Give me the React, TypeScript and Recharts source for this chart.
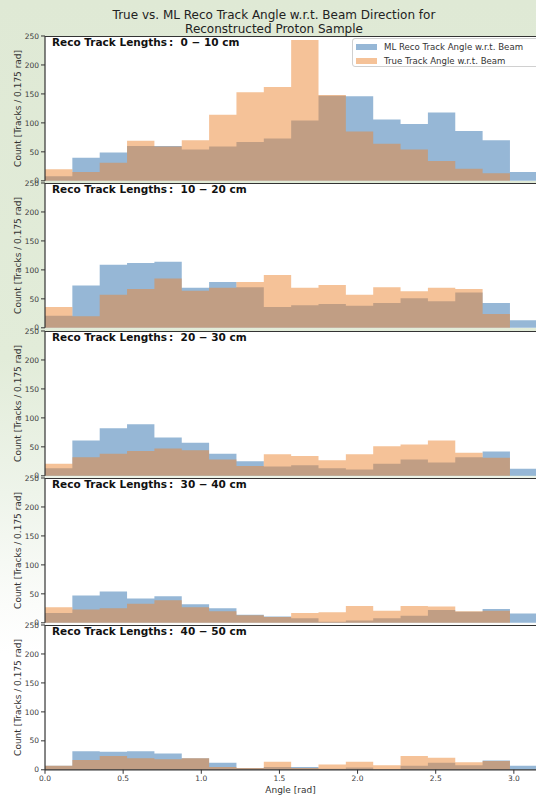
import React from 'react';
import { ComposedChart, Area, XAxis, YAxis } from 'recharts';

// ---- data -------------------------------------------------------------
const BIN_WIDTH = 0.175; // rad
const N_BINS = 18;
const X_MAX = Math.PI;

const lengthRanges = ['0 − 10', '10 − 20', '20 − 30', '30 − 40', '40 − 50'];

// ML reco track angle w.r.t. beam, counts per bin
const reco_0_10 = [8, 40, 49, 60, 60, 54, 59, 67, 73, 104, 147, 146, 106, 98, 118, 86, 70, 15];
const reco_10_20 = [21, 73, 109, 112, 114, 69, 79, 70, 36, 39, 41, 38, 43, 51, 46, 61, 43, 13];
const reco_20_30 = [13, 61, 82, 89, 66, 57, 38, 25, 16, 18, 13, 11, 21, 28, 23, 32, 42, 12];
const reco_30_40 = [17, 47, 54, 42, 46, 32, 25, 14, 11, 8, 2, 4, 8, 12, 22, 19, 24, 16];
const reco_40_50 = [7, 32, 31, 32, 28, 20, 12, 3, 5, 5, 2, 4, 1, 7, 12, 8, 16, 7];

// True track angle w.r.t. beam, counts per bin
const true_0_10 = [20, 15, 31, 69, 59, 70, 114, 153, 162, 243, 148, 85, 64, 54, 34, 21, 13, 0];
const true_10_20 = [36, 20, 57, 67, 85, 64, 69, 79, 91, 69, 74, 57, 70, 63, 69, 67, 24, 0];
const true_20_30 = [21, 32, 38, 43, 47, 44, 28, 17, 37, 34, 27, 37, 51, 54, 61, 40, 31, 0];
const true_30_40 = [27, 23, 25, 33, 39, 27, 20, 13, 10, 17, 18, 29, 21, 29, 28, 20, 21, 0];
const true_40_50 = [7, 17, 24, 20, 18, 20, 5, 3, 14, 3, 9, 14, 8, 24, 21, 13, 15, 0];

const recoSets = [reco_0_10, reco_10_20, reco_20_30, reco_30_40, reco_40_50];
const trueSets = [true_0_10, true_10_20, true_20_30, true_30_40, true_40_50];

const yTicks = [0, 50, 100, 150, 200, 250];
const xTicks = [0, 0.5, 1, 1.5, 2, 2.5, 3];

const RECO_NAME = 'ML Reco Track Angle w.r.t. Beam';
const TRUE_NAME = 'True Track Angle w.r.t. Beam';
const Y_LABEL = 'Count [Tracks / 0.175 rad]';
const X_LABEL = 'Angle [rad]';
const TITLE_1 = 'True vs. ML Reco Track Angle w.r.t. Beam Direction for';
const TITLE_2 = 'Reconstructed Proton Sample';

// ---- styling / layout --------------------------------------------------
const W = 536;
const H = 796;
const FONT = '"DejaVu Sans", "Liberation Sans", sans-serif';
const RECO_COLOR = '#2d6fad';
const TRUE_COLOR = '#eb8531';
const SPINE = '#333333';
const TICK_TEXT = '#3a3a3a';

const PLOT_LEFT = 45;
const FIRST_TOP = 35.9;
const PITCH = 147.3;
const PLOT_H = 144.8;
const PAD = 8;

const legendItems = [
  { name: RECO_NAME, color: RECO_COLOR },
  { name: TRUE_NAME, color: TRUE_COLOR },
];

// Step rows at bin edges: each count holds until the next edge.
function stepRows(reco: number[], truth: number[]) {
  const rows: { x: number; reco: number; truth: number }[] = [];
  for (let i = 0; i <= N_BINS; i++) {
    const j = Math.min(i, N_BINS - 1);
    rows.push({ x: +(i * BIN_WIDTH).toFixed(4), reco: reco[j], truth: truth[j] });
  }
  return rows;
}

function LegendBox() {
  return (
    <div
      style={{
        position: 'absolute',
        left: 352,
        top: 38.3,
        width: 200,
        height: 29,
        boxSizing: 'border-box',
        border: '1px solid #d0d0d0',
        borderRadius: 3,
        background: 'rgba(255,255,255,0.85)',
        paddingTop: 2,
        fontFamily: FONT,
      }}
    >
      {legendItems.map((entry) => (
        <div key={entry.name} style={{ display: 'flex', alignItems: 'center', height: 12, marginBottom: 1.3 }}>
          <div
            style={{
              width: 21,
              height: 6,
              marginLeft: 3,
              marginRight: 7,
              background: entry.color,
              opacity: 0.5,
            }}
          />
          <span style={{ fontSize: 8.6, color: '#333', whiteSpace: 'pre' }}>{entry.name}</span>
        </div>
      ))}
    </div>
  );
}

function Panel({ k }: { k: number }) {
  const top = FIRST_TOP + k * PITCH;
  const isLast = k === lengthRanges.length - 1;
  const chartTop = top - PAD;
  const xAxisH = isLast ? H - (top + PLOT_H) : 0;
  const chartH = isLast ? H - chartTop : PLOT_H + 2 * PAD;
  const rows = stepRows(recoSets[k], trueSets[k]);

  return (
    <div style={{ position: 'absolute', left: 0, top: chartTop }}>
      <ComposedChart
        width={W}
        height={chartH}
        data={rows}
        margin={{ top: PAD, right: 0, bottom: isLast ? 0 : PAD, left: 0 }}
        style={{ overflow: 'visible' }}
      >
        <XAxis
          dataKey="x"
          type="number"
          domain={[0, X_MAX]}
          allowDataOverflow
          ticks={xTicks}
          interval={0}
          height={xAxisH}
          axisLine={{ stroke: SPINE, strokeWidth: 1.2 }}
          tickLine={isLast ? { stroke: SPINE } : false}
          tickSize={4}
          tickMargin={2}
          tick={isLast ? { fontSize: 7.5, fill: TICK_TEXT, fontFamily: FONT } : false}
          tickFormatter={(v: number) => v.toFixed(1)}
          label={
            isLast
              ? {
                  value: X_LABEL,
                  content: (p: any) => {
                    const vb = p.viewBox || { x: PLOT_LEFT, width: W - PLOT_LEFT };
                    return (
                      <text
                        x={vb.x + vb.width / 2}
                        y={chartH - 3}
                        textAnchor="middle"
                        fontSize={9}
                        fill="#333"
                        fontFamily={FONT}
                      >
                        {X_LABEL}
                      </text>
                    );
                  },
                }
              : undefined
          }
        />
        <YAxis
          type="number"
          domain={[0, 250]}
          ticks={yTicks}
          interval={0}
          width={PLOT_LEFT}
          axisLine={{ stroke: SPINE, strokeWidth: 1.2 }}
          tickLine={{ stroke: SPINE }}
          tickSize={4}
          tickMargin={2}
          tick={{ fontSize: 7.5, fill: TICK_TEXT, fontFamily: FONT }}
          label={{
            value: Y_LABEL,
            content: (p: any) => {
              const vb = p.viewBox || { y: PAD, height: PLOT_H };
              const cx = 18;
              const cy = vb.y + vb.height / 2;
              return (
                <text
                  x={cx}
                  y={cy}
                  transform={`rotate(-90 ${cx} ${cy})`}
                  textAnchor="middle"
                  dominantBaseline="central"
                  fontSize={9}
                  fill="#333"
                  fontFamily={FONT}
                >
                  {Y_LABEL}
                </text>
              );
            },
          }}
        />
        <Area
          name={RECO_NAME}
          dataKey="reco"
          type="stepAfter"
          fill={RECO_COLOR}
          fillOpacity={0.5}
          stroke="none"
          dot={false}
          activeDot={false}
          isAnimationActive={false}
        />
        <Area
          name={TRUE_NAME}
          dataKey="truth"
          type="stepAfter"
          fill={TRUE_COLOR}
          fillOpacity={0.5}
          stroke="none"
          dot={false}
          activeDot={false}
          isAnimationActive={false}
        />
      </ComposedChart>
      <div
        style={{
          position: 'absolute',
          left: 52,
          top: PAD,
          fontFamily: FONT,
          fontWeight: 'bold',
          fontSize: 10.5,
          lineHeight: '12px',
          color: '#111',
          whiteSpace: 'pre',
          pointerEvents: 'none',
        }}
      >
        {`Reco Track Lengths\u2009:  ${lengthRanges[k]} cm`}
      </div>
    </div>
  );
}

export default function App() {
  return (
    <div
      style={{
        position: 'relative',
        width: W,
        height: H,
        overflow: 'hidden',
        background:
          'linear-gradient(180deg, #dfe9d5 0%, #e2ecd9 45%, #eef4ea 62%, #fbfcfa 76%, #ffffff 82%)',
        fontFamily: FONT,
      }}
    >
      <style>{'body{margin:0}'}</style>
      <div
        style={{
          position: 'absolute',
          left: 0,
          width: 548,
          top: 7.5,
          textAlign: 'center',
          fontSize: 12,
          lineHeight: '14px',
          color: '#222',
          fontFamily: FONT,
        }}
      >
        <div>{TITLE_1}</div>
        <div>{TITLE_2}</div>
      </div>
      {lengthRanges.map((_, k) => (
        <div
          key={`bg-${k}`}
          style={{
            position: 'absolute',
            left: PLOT_LEFT,
            top: FIRST_TOP + k * PITCH,
            width: W - PLOT_LEFT,
            height: PLOT_H,
            background: '#ffffff',
            borderTop: `1px solid ${SPINE}`,
            boxSizing: 'border-box',
          }}
        />
      ))}
      {lengthRanges.map((_, k) => (
        <Panel key={k} k={k} />
      ))}
      <LegendBox />
    </div>
  );
}
